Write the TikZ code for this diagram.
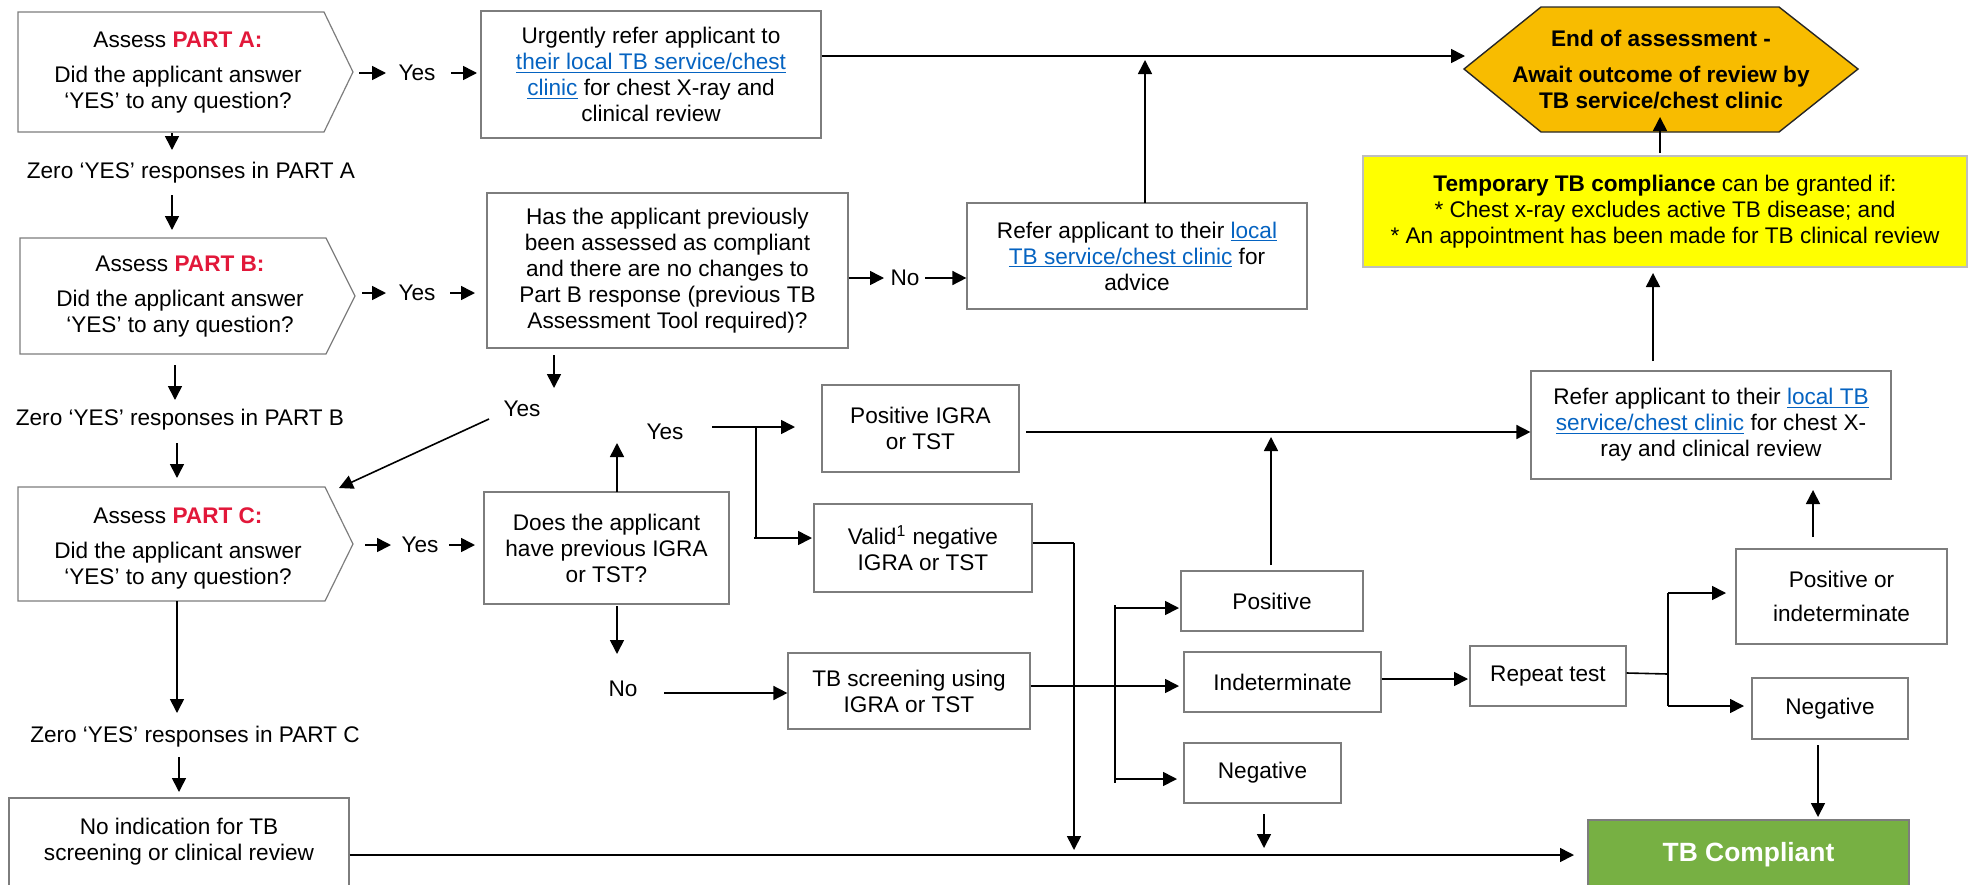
\documentclass[tikz,border=0pt]{standalone}
\usepackage{fontspec}
\setmainfont{Liberation Sans}
\usetikzlibrary{arrows.meta}
\definecolor{boxgray}{RGB}{125,125,125}
\definecolor{lightgrayb}{RGB}{190,190,190}
\definecolor{hexfill}{RGB}{248,188,0}
\definecolor{ylw}{RGB}{255,255,0}
\definecolor{grn}{RGB}{119,176,67}
\definecolor{partred}{RGB}{226,24,58}
\definecolor{linkblue}{RGB}{5,99,193}
\newcommand{\lnk}[1]{\textcolor{linkblue}{\setbox0\hbox{#1}\rlap{\rule[-1.7pt]{\wd0}{0.6pt}}\box0}}
\newcommand{\fs}{\fontsize{11.3}{13}\selectfont}
\tikzset{
  box/.style={draw=boxgray, line width=0.6pt, align=center, inner sep=0pt, font=\fs},
  txt/.style={align=center, inner sep=1pt, font=\fs},
  shapeline/.style={draw=boxgray, line width=0.6pt},
  arr/.style={-{Triangle[length=7pt,width=7pt]}, line width=0.8pt},
  ln/.style={line width=0.8pt},
}
\begin{document}
\begin{tikzpicture}[x=0.5pt,y=-0.5pt]
\useasboundingbox (0,0) rectangle (1970,884);

% ---------- pentagons ----------
\draw[shapeline] (18,12) -- (324,12) -- (353,72) -- (324,132) -- (18,132) -- cycle;
\node[txt] (partA) at (178,73) {Assess \textcolor{partred}{\textbf{PART A:}}\\[4.5pt]Did the applicant answer\\‘YES’ to any question?};
\draw[shapeline] (20,238) -- (326,238) -- (355,296) -- (326,354) -- (20,354) -- cycle;
\node[txt] (partB) at (180,297) {Assess \textcolor{partred}{\textbf{PART B:}}\\[4.5pt]Did the applicant answer\\‘YES’ to any question?};
\draw[shapeline] (18,487) -- (325,487) -- (353,544) -- (325,601) -- (18,601) -- cycle;
\node[txt] (partC) at (178,548) {Assess \textcolor{partred}{\textbf{PART C:}}\\[4.5pt]Did the applicant answer\\‘YES’ to any question?};

% ---------- left column labels ----------
\node[txt] (zeroA) at (191,173) {Zero ‘YES’ responses in PART A};
\node[txt] (zeroB) at (180,420) {Zero ‘YES’ responses in PART B};
\node[txt] (zeroC) at (195,737) {Zero ‘YES’ responses in PART C};
\node[box, minimum width=170pt, minimum height=44pt] (noind) at (179,842) {No indication for TB\\screening or clinical review};

% ---------- boxes ----------
\node[box, minimum width=170pt, minimum height=63.5pt] (urgent) at (651,74.5)
  {Urgently refer applicant to\\\lnk{their local TB service/chest}\\\lnk{clinic} for chest X-ray and\\clinical review};
\node[box, minimum width=180.5pt, minimum height=77.5pt] (has) at (667.5,270.5)
  {Has the applicant previously\\been assessed as compliant\\and there are no changes to\\Part B response (previous TB\\Assessment Tool required)?};
\node[box, minimum width=170pt, minimum height=53pt] (advice) at (1137,256)
  {Refer applicant to their \lnk{local}\\\lnk{TB service/chest clinic} for\\advice};
\node[box, minimum width=122.5pt, minimum height=56pt] (does) at (606.5,548)
  {Does the applicant\\have previous IGRA\\or TST?};
\node[box, minimum width=98.5pt, minimum height=43.5pt] (posigra) at (920.5,428.5) {Positive IGRA\\or TST};
\node[box, minimum width=109pt, minimum height=44pt] (valid) at (923,548) {Valid\textsuperscript{1} negative\\IGRA or TST};
\node[box, minimum width=121pt, minimum height=38pt] (screen) at (909,691) {TB screening using\\IGRA or TST};
\node[box, minimum width=91pt, minimum height=30pt] (pos) at (1272,601) {Positive};
\node[box, minimum width=98.5pt, minimum height=30pt] (indet) at (1282.5,682) {Indeterminate};
\node[box, minimum width=78.5pt, minimum height=30pt] (neg) at (1262.5,773) {Negative};
\node[box, minimum width=78pt, minimum height=30pt] (repeat) at (1548,676) {Repeat test};
\node[box, minimum width=105.5pt, minimum height=47.5pt] (pori) at (1841.5,596.5) {Positive or\\[4pt]indeterminate};
\node[box, minimum width=78pt, minimum height=30.5pt] (neg2) at (1830,708.5) {Negative};
\node[box, minimum width=180pt, minimum height=54pt] (refer) at (1711,425)
  {Refer applicant to their \lnk{local TB}\\\lnk{service/chest clinic} for chest X-\\ray and clinical review};
\node[box, draw=lightgrayb, line width=1.3pt, fill=ylw, minimum width=302pt, minimum height=55.5pt] (temp) at (1665,211.5)
  {\textbf{Temporary TB compliance} can be granted if:\\* Chest x-ray excludes active TB disease; and\\* An appointment has been made for TB clinical review};
\node[box, fill=grn, minimum width=160.5pt, minimum height=35pt, font=\fontsize{13.2}{15}\selectfont\bfseries, text=white] (comp) at (1748.5,855) {TB Compliant};

% hexagon
\draw[draw=black!85, line width=0.7pt, fill=hexfill] (1464,69) -- (1541,7) -- (1779,7) -- (1858,69) -- (1779,132) -- (1541,132) -- cycle;
\node[txt, font=\fs\bfseries] (endass) at (1661,70) {End of assessment -\\[5pt]Await outcome of review by\\TB service/chest clinic};

% ---------- yes / no labels ----------
\node[txt] (yesA) at (417,73) {Yes};
\node[txt] (yesB) at (417,293) {Yes};
\node[txt] (yesC) at (420,545) {Yes};
\node[txt] (noHas) at (905,278) {No};
\node[txt] (yesHas) at (522,409) {Yes};
\node[txt] (yesDoes) at (665,432) {Yes};
\node[txt] (noDoes) at (623,689) {No};

\coordinate (hexW) at (1465,56);
\coordinate (branch1) at (756,427);
\coordinate (branch2) at (1115,608);
\coordinate (branch3) at (1668,674);
\coordinate (vdown) at (1074,543);

% ---------- connectors: left column ----------
\draw[arr] (172,133) -- (172,150);
\draw[arr] (172,195) -- (172,230);
\draw[arr] (175,365) -- (175,400);
\draw[arr] (177,443) -- (177,478);
\draw[arr] (177,601) -- (177,713);
\draw[arr] (179,757) -- (179,792);

% yes arrows from pentagons
\draw[arr] (359,73) -- (386,73);
\draw[arr] (451,73) -- (477,73);
\draw[arr] (362,293) -- (386,293);
\draw[arr] (450,293) -- (475,293);
\draw[arr] (365,545) -- (391,545);
\draw[arr] (449,545) -- (475,545);

% Has -> No -> advice
\draw[arr] (has.east |- 0,278) -- (884,278);
\draw[arr] (925,278) -- (advice.west |- 0,278);

% urgent -> hexagon ; advice -> line
\draw[arr] (urgent.east |- hexW) -- (hexW);
\draw[arr] (1145,203) -- (1145,60);

% temp -> hexagon ; refer -> temp
\draw[arr] (1660,153) -- (1660,117);
\draw[arr] (1653,361) -- (1653,273);

% has -> yes -> part C
\draw[arr] (554,355) -- (554,388);
\draw[arr] (489,419) -- (339,488);

% does -> yes -> branch
\draw[arr] (617,492) -- (617,443);
\draw[ln] (712,427) -- (branch1);
\draw[ln] (branch1) -- (756,538);
\draw[arr] (branch1) -- (795,427);
\draw[arr] (754,538) -- (812,538);

% positive IGRA -> refer
\draw[arr] (1026,432) -- (refer.west |- 0,432);
% positive -> line
\draw[arr] (1271,565) -- (1271,437);

% valid -> down to bottom line
\draw[ln] (valid.east |- vdown) -- (vdown);
\draw[arr] (vdown) -- (1074,850);

% does -> No -> screening
\draw[arr] (617,606) -- (617,654);
\draw[arr] (664,693) -- (screen.west |- 0,693);

% screening -> indeterminate, branch
\draw[arr] (screen.east |- 0,686) -- (1179,686);
\draw[ln] (1115,605) -- (1115,783);
\draw[arr] (branch2) -- (1179,608);
\draw[arr] (1115,779) -- (1177,779);
\draw[arr] (1264,814) -- (1264,848);

% indeterminate -> repeat -> branch
\draw[arr] (indet.east |- 0,679) -- (1468,679);
\draw[ln] (repeat.east |- 0,673) -- (branch3);
\draw[ln] (1668,593) -- (1668,706);
\draw[arr] (1668,593) -- (1726,593);
\draw[arr] (1668,706) -- (1744,706);

% positive or indeterminate -> refer ; negative -> compliant
\draw[arr] (1813,537) -- (1813,490);
\draw[arr] (1818,745) -- (1818,817);

% no indication -> compliant
\draw[arr] (noind.east |- 0,855) -- (1574,855);
\end{tikzpicture}
\end{document}
